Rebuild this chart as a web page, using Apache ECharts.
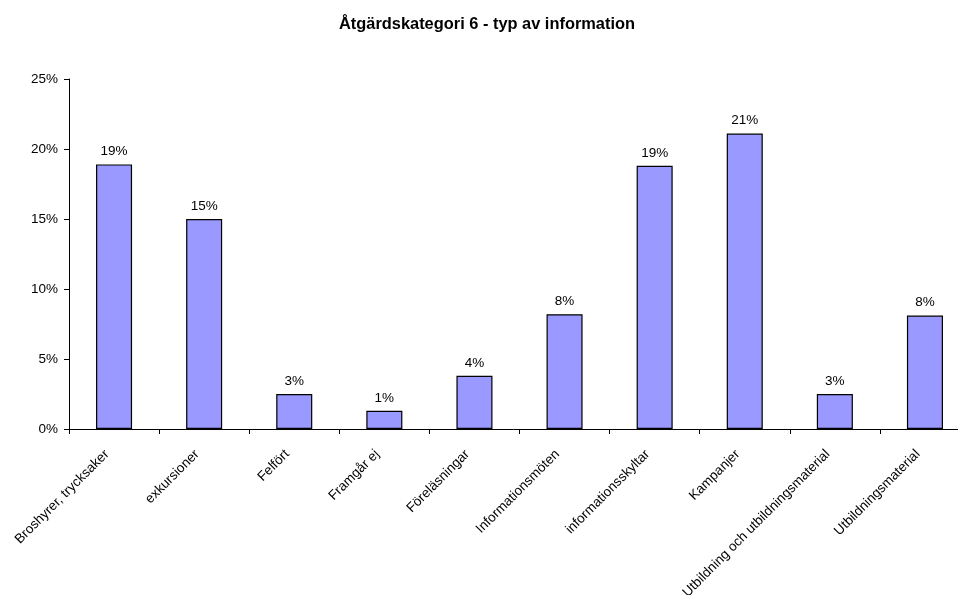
<!DOCTYPE html>
<html>
<head>
<meta charset="utf-8">
<script src="https://cdn.jsdelivr.net/npm/echarts@6/dist/echarts.min.js"></script>
<style>
    html, body { margin: 0; padding: 0; background: #fff; }
    #chart { width: 958px; height: 595px; }
</style>
</head>
<body>
<div id="chart"></div>
<script>
    // categories along the x axis
    const categories = [
        'Broshyrer, trycksaker',
        'exkursioner',
        'Felfört',
        'Framgår ej',
        'Föreläsningar',
        'Informationsmöten',
        'informationsskyltar',
        'Kampanjer',
        'Utbildning och utbildningsmaterial',
        'Utbildningsmaterial'
    ];
    // share in percent
    const shares = [18.9, 15.0, 2.5, 1.3, 3.8, 8.2, 18.8, 21.1, 2.5, 8.1];

    const chart = echarts.init(document.getElementById('chart'));
    const font = 'Liberation Sans, Arial, sans-serif';

    let option = {
        animation: false,
        textStyle: { fontFamily: font },
        title: {
            text: 'Åtgärdskategori 6 - typ av information',
            left: 482,
            textAlign: 'center',
            top: 11,
            textStyle: { fontSize: 16.4, fontWeight: 'bold', color: '#000', fontFamily: font }
        },
        // plot runs past the right edge of the picture, like the original
        grid: {
            left: 69,
            width: 901,
            top: 79,
            bottom: 166,
            containLabel: false,
            outerBoundsMode: 'none'
        },
        xAxis: {
            type: 'category',
            data: categories,
            boundaryGap: true,
            axisLine: { lineStyle: { color: '#000', width: 1 } },
            axisTick: { show: true, length: 5, interval: 0, lineStyle: { color: '#000' } },
            axisLabel: {
                interval: 0,
                rotate: 45,
                margin: 16,
                padding: [0, 10, 0, 0],
                fontSize: 13.5,
                color: '#000',
                fontFamily: font
            }
        },
        yAxis: {
            type: 'value',
            min: 0,
            max: 25,
            interval: 5,
            splitLine: { show: false },
            axisLine: { show: true, lineStyle: { color: '#000', width: 1 } },
            axisTick: { show: true, length: 5, lineStyle: { color: '#000' } },
            axisLabel: {
                formatter: '{value}%',
                fontSize: 13.5,
                color: '#000',
                margin: 11,
                fontFamily: font
            }
        },
        series: [
            {
                type: 'bar',
                data: shares,
                barWidth: '40%',
                itemStyle: {
                    color: '#9999ff',
                    borderColor: '#000',
                    borderWidth: 1.2
                },
                label: {
                    show: true,
                    position: 'top',
                    distance: 6,
                    fontSize: 13.5,
                    color: '#000',
                    fontFamily: font,
                    formatter: (p) => Math.round(p.value) + '%'
                }
            }
        ]
    };

    chart.setOption(option);
</script>
</body>
</html>
